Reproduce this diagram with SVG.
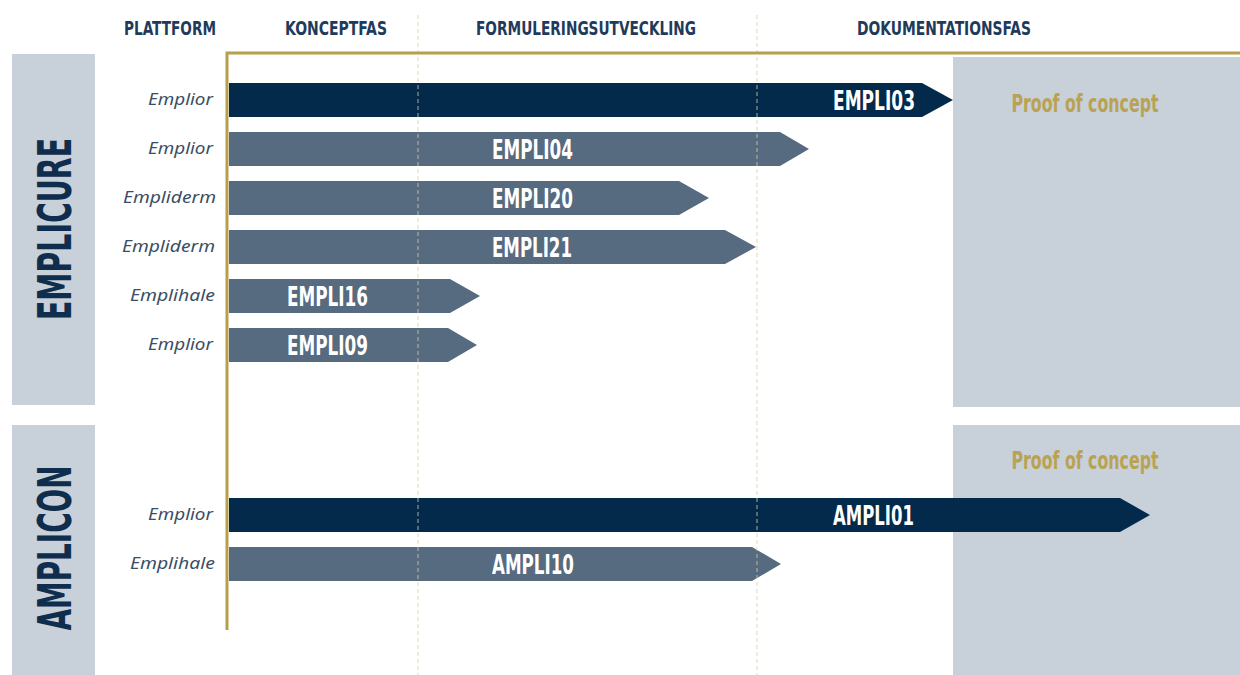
<svg xmlns="http://www.w3.org/2000/svg" width="1240" height="675" viewBox="0 0 1240 675">
<style>
.hdr{font-family:"Liberation Sans Narrow","DejaVu Sans Condensed","Liberation Sans",sans-serif;font-weight:bold;font-size:19px;fill:#1f3a5a;text-anchor:middle}
.plat{font-family:"Noto Sans","Liberation Sans",sans-serif;font-style:italic;font-size:16px;fill:#3a4e66;text-anchor:end}
.lbl{font-family:"Liberation Sans Narrow","DejaVu Sans Condensed","Liberation Sans",sans-serif;font-weight:bold;font-size:26px;fill:#ffffff}
.poc{font-family:"Liberation Sans Narrow","DejaVu Sans Condensed","Liberation Sans",sans-serif;font-weight:bold;font-size:24px;fill:#b9a353;text-anchor:middle}
.grp{font-family:"Liberation Sans Narrow","DejaVu Sans Condensed","Liberation Sans",sans-serif;font-weight:bold;font-size:46px;fill:#0f2d4d;text-anchor:middle}
.side{fill:#c8d0da}
.dark{fill:#032a4b}
.light{fill:#566a80}
.grid{stroke:#d9cfa5;stroke-width:1;stroke-dasharray:4 3;fill:none}
.gold{stroke:#b79f4c;stroke-width:3;fill:none}
</style>
<rect width="1240" height="675" fill="#ffffff"/>

<g id="headers">
<text class="hdr" x="170" y="35" textLength="92" lengthAdjust="spacingAndGlyphs">PLATTFORM</text>
<text class="hdr" x="336" y="35" textLength="102" lengthAdjust="spacingAndGlyphs">KONCEPTFAS</text>
<text class="hdr" x="586" y="35" textLength="220" lengthAdjust="spacingAndGlyphs">FORMULERINGSUTVECKLING</text>
<text class="hdr" x="944" y="35" textLength="174" lengthAdjust="spacingAndGlyphs">DOKUMENTATIONSFAS</text>
</g>

<g id="emplicure-group">
<rect class="side" x="12" y="54" width="83" height="351"/>
<text class="grp" transform="translate(71,229) rotate(-90)" x="0" y="0" textLength="182" lengthAdjust="spacingAndGlyphs">EMPLICURE</text>
</g>
<g id="amplicon-group">
<rect class="side" x="12" y="425" width="83" height="250"/>
<text class="grp" transform="translate(71,548) rotate(-90)" x="0" y="0" textLength="165" lengthAdjust="spacingAndGlyphs">AMPLICON</text>
</g>

<g id="poc-emplicure">
<rect class="side" x="953" y="57" width="287" height="350"/>
<text class="poc" x="1085" y="112" textLength="147" lengthAdjust="spacingAndGlyphs">Proof of concept</text>
</g>
<g id="poc-amplicon">
<rect class="side" x="953" y="425" width="287" height="250"/>
<text class="poc" x="1085" y="469" textLength="147" lengthAdjust="spacingAndGlyphs">Proof of concept</text>
</g>

<g id="EMPLI03">
<text class="plat" x="213" y="105" textLength="65" lengthAdjust="spacingAndGlyphs">Emplior</text>
<polygon class="dark" points="229,83 922,83 953,100 922,117 229,117"/>
<text class="lbl" x="833" y="109.5" textLength="82" lengthAdjust="spacingAndGlyphs">EMPLI03</text>
</g>
<g id="EMPLI04">
<text class="plat" x="213" y="154" textLength="65" lengthAdjust="spacingAndGlyphs">Emplior</text>
<polygon class="light" points="229,132 780,132 809,149 780,166 229,166"/>
<text class="lbl" x="492" y="158.5" textLength="81" lengthAdjust="spacingAndGlyphs">EMPLI04</text>
</g>
<g id="EMPLI20">
<text class="plat" x="216" y="203" textLength="93" lengthAdjust="spacingAndGlyphs">Empliderm</text>
<polygon class="light" points="229,181 679,181 709,198 679,215 229,215"/>
<text class="lbl" x="492" y="207.5" textLength="81" lengthAdjust="spacingAndGlyphs">EMPLI20</text>
</g>
<g id="EMPLI21">
<text class="plat" x="215" y="252" textLength="93" lengthAdjust="spacingAndGlyphs">Empliderm</text>
<polygon class="light" points="229,230 725,230 756,247 725,264 229,264"/>
<text class="lbl" x="492" y="256.5" textLength="80" lengthAdjust="spacingAndGlyphs">EMPLI21</text>
</g>
<g id="EMPLI16">
<text class="plat" x="215" y="301" textLength="85" lengthAdjust="spacingAndGlyphs">Emplihale</text>
<polygon class="light" points="229,279 450,279 480,296 450,313 229,313"/>
<text class="lbl" x="287" y="305.5" textLength="81" lengthAdjust="spacingAndGlyphs">EMPLI16</text>
</g>
<g id="EMPLI09">
<text class="plat" x="213" y="350" textLength="65" lengthAdjust="spacingAndGlyphs">Emplior</text>
<polygon class="light" points="229,328 448,328 477,345 448,362 229,362"/>
<text class="lbl" x="287" y="354.5" textLength="81" lengthAdjust="spacingAndGlyphs">EMPLI09</text>
</g>
<g id="AMPLI01">
<text class="plat" x="213" y="520" textLength="65" lengthAdjust="spacingAndGlyphs">Emplior</text>
<polygon class="dark" points="229,498 1120,498 1150,515 1120,532 229,532"/>
<text class="lbl" x="833" y="524.5" textLength="81" lengthAdjust="spacingAndGlyphs">AMPLI01</text>
</g>
<g id="AMPLI10">
<text class="plat" x="215" y="569" textLength="85" lengthAdjust="spacingAndGlyphs">Emplihale</text>
<polygon class="light" points="229,547 752,547 781,564 752,581 229,581"/>
<text class="lbl" x="492" y="573.5" textLength="82" lengthAdjust="spacingAndGlyphs">AMPLI10</text>
</g>

<g id="connectors">
<line class="grid" x1="418" y1="15" x2="418" y2="675" opacity="0.8"/>
<line class="grid" x1="757" y1="15" x2="757" y2="675" opacity="0.8"/>
<polyline class="gold" points="227,630 227,53 1240,53"/>
</g>
</svg>
